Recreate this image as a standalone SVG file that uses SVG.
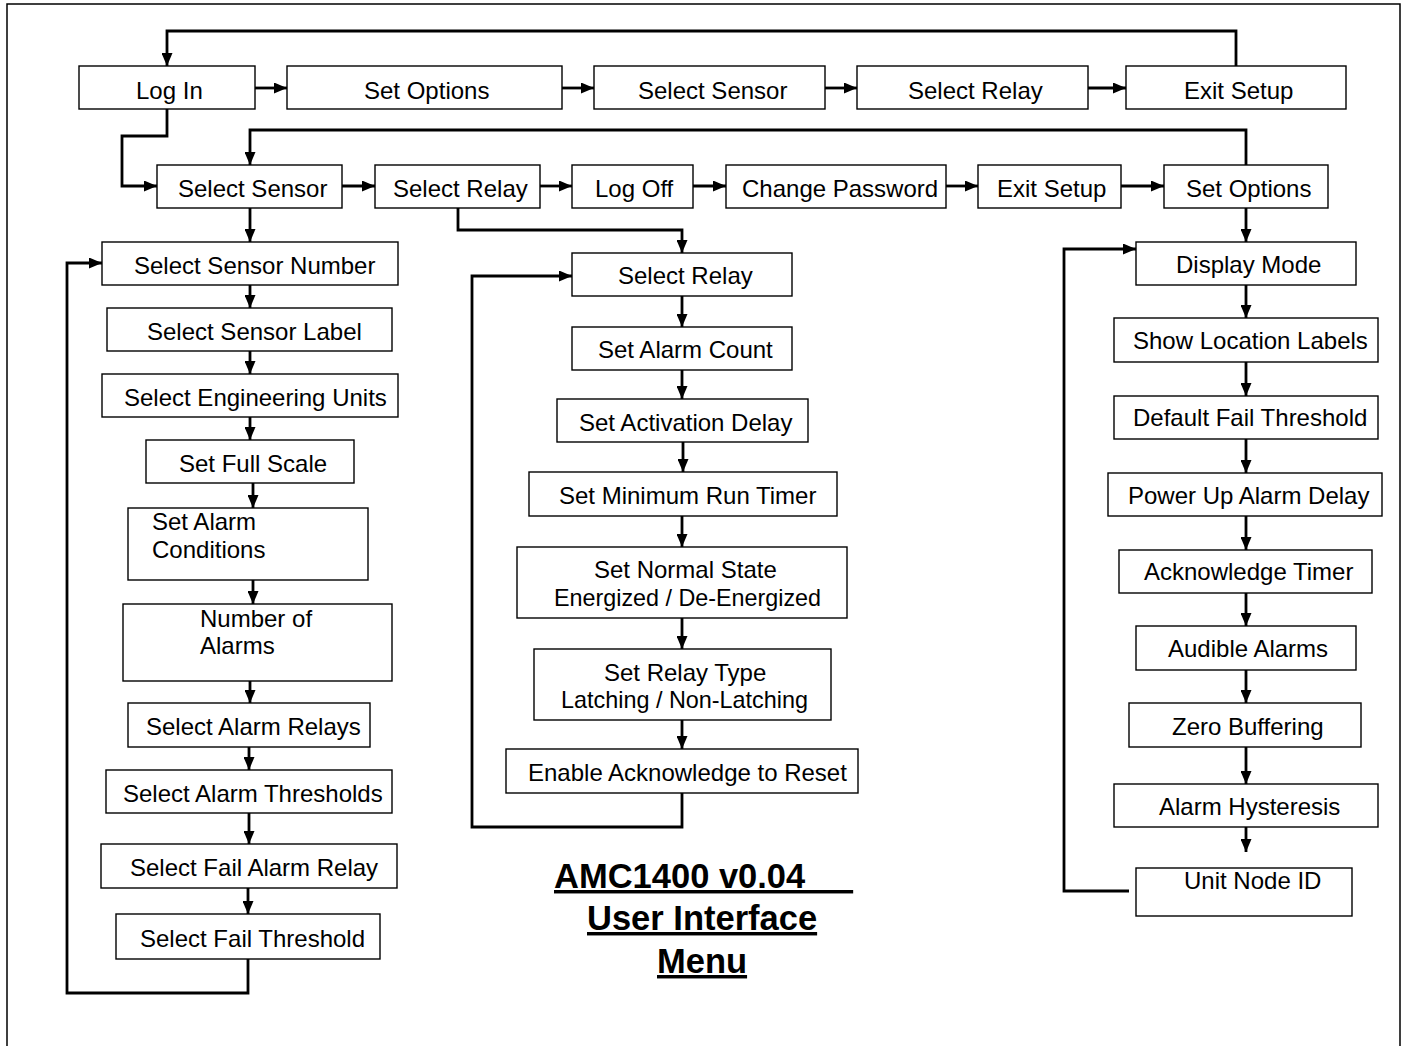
<svg xmlns="http://www.w3.org/2000/svg" width="1406" height="1046" viewBox="0 0 1406 1046">
<style>
.b{fill:#fff;stroke:#000;stroke-width:1.4}
.t{font-family:"Liberation Sans",Arial,sans-serif;font-size:24px;fill:#000}
.h{font-family:"Liberation Sans",Arial,sans-serif;font-size:34.5px;font-weight:bold;fill:#000;text-decoration:underline}
.c{fill:none;stroke:#000;stroke-width:2.8}
.a{marker-end:url(#ah)}
</style>
<defs>
<marker id="ah" markerWidth="13" markerHeight="11" refX="13" refY="5.5" orient="auto" markerUnits="userSpaceOnUse"><path d="M0,0 L13,5.5 L0,11 z" fill="#000"/></marker>
</defs>
<rect x="0" y="0" width="1406" height="1046" fill="#fff"/>
<path d="M7,1050 V4 H1400 V1050" fill="none" stroke="#000" stroke-width="1.5"/>
<g id="connectors">
<path class="c a" d="M255,88 H287"/>
<path class="c a" d="M562,88 H594"/>
<path class="c a" d="M825,88 H857"/>
<path class="c a" d="M1088,88 H1126"/>
<path class="c a" d="M1236,66 V31 H167 V66"/>
<path class="c a" d="M167,109 V136 H122 V186 H157"/>
<path class="c a" d="M342,186 H375"/>
<path class="c a" d="M540,186 H572"/>
<path class="c a" d="M693,186 H726"/>
<path class="c a" d="M946,186 H978"/>
<path class="c a" d="M1121,186 H1164"/>
<path class="c a" d="M1246,165 V130 H250 V165"/>
<path class="c a" d="M250,208 V242"/>
<path class="c a" d="M458,208 V230 H682 V253"/>
<path class="c a" d="M1246,208 V242"/>
<path class="c a" d="M250,285 V308"/>
<path class="c a" d="M250,351 V374"/>
<path class="c a" d="M250,417 V440"/>
<path class="c a" d="M253,483 V508"/>
<path class="c a" d="M253,580 V604"/>
<path class="c a" d="M250,681 V703"/>
<path class="c a" d="M249,747 V770"/>
<path class="c a" d="M249,813 V844"/>
<path class="c a" d="M248,888 V914"/>
<path class="c a" d="M248,959 V993 H67 V263 H102"/>
<path class="c a" d="M682,296 V327"/>
<path class="c a" d="M682,370 V399"/>
<path class="c a" d="M683,442 V472"/>
<path class="c a" d="M682,516 V547"/>
<path class="c a" d="M682,618 V649"/>
<path class="c a" d="M682,720 V749"/>
<path class="c a" d="M682,793 V827 H472 V276 H572"/>
<path class="c a" d="M1246,285 V318"/>
<path class="c a" d="M1246,362 V396"/>
<path class="c a" d="M1246,439 V473"/>
<path class="c a" d="M1246,516 V550"/>
<path class="c a" d="M1246,593 V626"/>
<path class="c a" d="M1246,670 V703"/>
<path class="c a" d="M1246,747 V784"/>
<path class="c a" d="M1246,827 V852"/>
<path class="c a" d="M1129,891 H1064 V249 H1136"/>
</g>
<g id="login"><rect class="b" x="79" y="66" width="176" height="43"/><text class="t" x="136" y="99">Log In</text></g>
<g id="setoptions1"><rect class="b" x="287" y="66" width="275" height="43"/><text class="t" x="364" y="99">Set Options</text></g>
<g id="selectsensor1"><rect class="b" x="594" y="66" width="231" height="43"/><text class="t" x="638" y="99">Select Sensor</text></g>
<g id="selectrelay1"><rect class="b" x="857" y="66" width="231" height="43"/><text class="t" x="908" y="99">Select Relay</text></g>
<g id="exitsetup1"><rect class="b" x="1126" y="66" width="220" height="43"/><text class="t" x="1184" y="99">Exit Setup</text></g>
<g id="selectsensor2"><rect class="b" x="157" y="165" width="185" height="43"/><text class="t" x="178" y="197">Select Sensor</text></g>
<g id="selectrelay2"><rect class="b" x="375" y="165" width="165" height="43"/><text class="t" x="393" y="197">Select Relay</text></g>
<g id="logoff"><rect class="b" x="572" y="165" width="121" height="43"/><text class="t" x="595" y="197">Log Off</text></g>
<g id="changepassword"><rect class="b" x="726" y="165" width="220" height="43"/><text class="t" x="742" y="197">Change Password</text></g>
<g id="exitsetup2"><rect class="b" x="978" y="165" width="143" height="43"/><text class="t" x="997" y="197">Exit Setup</text></g>
<g id="setoptions2"><rect class="b" x="1164" y="165" width="164" height="43"/><text class="t" x="1186" y="197">Set Options</text></g>
<g id="selectsensornumber"><rect class="b" x="102" y="242" width="296" height="43"/><text class="t" x="134" y="274">Select Sensor Number</text></g>
<g id="selectsensorlabel"><rect class="b" x="107" y="308" width="285" height="43"/><text class="t" x="147" y="340">Select Sensor Label</text></g>
<g id="selectengineeringunits"><rect class="b" x="102" y="374" width="296" height="43"/><text class="t" x="124" y="406">Select Engineering Units</text></g>
<g id="setfullscale"><rect class="b" x="146" y="440" width="208" height="43"/><text class="t" x="179" y="472">Set Full Scale</text></g>
<g id="setalarmconditions"><rect class="b" x="128" y="508" width="240" height="72"/><text class="t" x="152" y="530">Set Alarm</text><text class="t" x="152" y="558">Conditions</text></g>
<g id="numberofalarms"><rect class="b" x="123" y="604" width="269" height="77"/><text class="t" x="200" y="627">Number of</text><text class="t" x="200" y="654">Alarms</text></g>
<g id="selectalarmrelays"><rect class="b" x="128" y="703" width="242" height="44"/><text class="t" x="146" y="735">Select Alarm Relays</text></g>
<g id="selectalarmthresholds"><rect class="b" x="106" y="770" width="286" height="43"/><text class="t" x="123" y="802">Select Alarm Thresholds</text></g>
<g id="selectfailalarmrelay"><rect class="b" x="101" y="844" width="296" height="44"/><text class="t" x="130" y="876">Select Fail Alarm Relay</text></g>
<g id="selectfailthreshold"><rect class="b" x="116" y="914" width="264" height="45"/><text class="t" x="140" y="947">Select Fail Threshold</text></g>
<g id="selectrelay3"><rect class="b" x="572" y="253" width="220" height="43"/><text class="t" x="618" y="284">Select Relay</text></g>
<g id="setalarmcount"><rect class="b" x="572" y="327" width="220" height="43"/><text class="t" x="598" y="358">Set Alarm Count</text></g>
<g id="setactivationdelay"><rect class="b" x="557" y="399" width="251" height="43"/><text class="t" x="579" y="431">Set Activation Delay</text></g>
<g id="setminimumruntimer"><rect class="b" x="529" y="472" width="308" height="44"/><text class="t" x="559" y="504">Set Minimum Run Timer</text></g>
<g id="setnormalstate"><rect class="b" x="517" y="547" width="330" height="71"/><text class="t" x="594" y="578">Set Normal State</text><text class="t" x="554" y="606" textLength="267" lengthAdjust="spacingAndGlyphs">Energized / De-Energized</text></g>
<g id="setrelaytype"><rect class="b" x="534" y="649" width="297" height="71"/><text class="t" x="604" y="681">Set Relay Type</text><text class="t" x="561" y="708" textLength="247" lengthAdjust="spacingAndGlyphs">Latching / Non-Latching</text></g>
<g id="enableacknowledge"><rect class="b" x="506" y="749" width="352" height="44"/><text class="t" x="528" y="781">Enable Acknowledge to Reset</text></g>
<g id="displaymode"><rect class="b" x="1136" y="242" width="220" height="43"/><text class="t" x="1176" y="273">Display Mode</text></g>
<g id="showlocationlabels"><rect class="b" x="1114" y="318" width="264" height="44"/><text class="t" x="1133" y="349">Show Location Labels</text></g>
<g id="defaultfailthreshold"><rect class="b" x="1114" y="396" width="264" height="43"/><text class="t" x="1133" y="426">Default Fail Threshold</text></g>
<g id="powerupalarmdelay"><rect class="b" x="1108" y="473" width="274" height="43"/><text class="t" x="1128" y="504">Power Up Alarm Delay</text></g>
<g id="acknowledgetimer"><rect class="b" x="1119" y="550" width="253" height="43"/><text class="t" x="1144" y="580">Acknowledge Timer</text></g>
<g id="audiblealarms"><rect class="b" x="1136" y="626" width="220" height="44"/><text class="t" x="1168" y="657">Audible Alarms</text></g>
<g id="zerobuffering"><rect class="b" x="1129" y="703" width="232" height="44"/><text class="t" x="1172" y="735">Zero Buffering</text></g>
<g id="alarmhysteresis"><rect class="b" x="1114" y="784" width="264" height="43"/><text class="t" x="1159" y="815">Alarm Hysteresis</text></g>
<g id="unitnodeid"><rect class="b" x="1136" y="868" width="216" height="48"/><text class="t" x="1184" y="889">Unit Node ID</text></g>
<g id="title">
<text class="h" x="554" y="888" xml:space="preserve">AMC1400 v0.04     </text>
<text class="h" x="587" y="930">User Interface</text>
<text class="h" x="657" y="973">Menu</text>
</g>
</svg>
